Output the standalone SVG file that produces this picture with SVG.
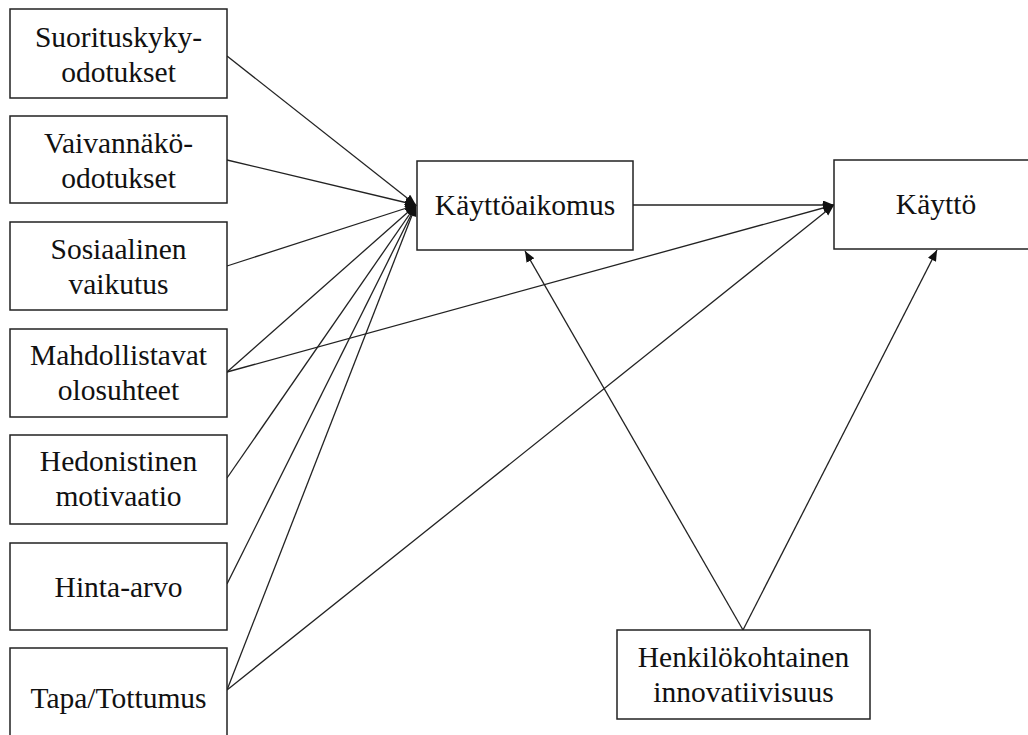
<svg xmlns="http://www.w3.org/2000/svg" width="1028" height="735" viewBox="0 0 1028 735">
<style>
.box{fill:#fff;stroke:#222;stroke-width:1.5}
.lbl{font-family:"Liberation Serif","Times New Roman",serif;font-size:29.5px;fill:#111;text-anchor:middle}
.con{stroke:#222;stroke-width:1.3;fill:none;marker-end:url(#ah)}
</style>
<defs>
<marker id="ah" markerUnits="userSpaceOnUse" markerWidth="12" markerHeight="10" refX="11" refY="4.5" orient="auto">
<path d="M0,0 L11,4.5 L0,9 z" fill="#111"/>
</marker>
</defs>
<rect width="1028" height="735" fill="#fff"/>
<g id="connectors">
<line class="con" x1="227" y1="56" x2="416" y2="205"/>
<line class="con" x1="227" y1="160" x2="416" y2="205"/>
<line class="con" x1="227" y1="266" x2="416" y2="205"/>
<line class="con" x1="227" y1="372" x2="416" y2="205"/>
<line class="con" x1="227" y1="372" x2="834" y2="205"/>
<line class="con" x1="227" y1="478" x2="416" y2="205"/>
<line class="con" x1="227" y1="584" x2="416" y2="205"/>
<line class="con" x1="227" y1="690" x2="416" y2="205"/>
<line class="con" x1="227" y1="690" x2="834" y2="205"/>
<line class="con" x1="633" y1="205" x2="834" y2="205"/>
<line class="con" x1="743" y1="630" x2="525" y2="251"/>
<line class="con" x1="743" y1="630" x2="937" y2="250"/>
</g>
<g id="n1"><rect class="box" x="10" y="9" width="217" height="89"/><text class="lbl" x="118.5" y="47">Suorituskyky-</text><text class="lbl" x="118.5" y="82">odotukset</text></g>
<g id="n2"><rect class="box" x="10" y="116" width="217" height="87"/><text class="lbl" x="118.5" y="153">Vaivannäkö-</text><text class="lbl" x="118.5" y="188">odotukset</text></g>
<g id="n3"><rect class="box" x="10" y="222" width="217" height="88"/><text class="lbl" x="118.5" y="259">Sosiaalinen</text><text class="lbl" x="118.5" y="294">vaikutus</text></g>
<g id="n4"><rect class="box" x="10" y="329" width="217" height="88"/><text class="lbl" x="118.5" y="365">Mahdollistavat</text><text class="lbl" x="118.5" y="400">olosuhteet</text></g>
<g id="n5"><rect class="box" x="10" y="435" width="217" height="89"/><text class="lbl" x="118.5" y="471">Hedonistinen</text><text class="lbl" x="118.5" y="506">motivaatio</text></g>
<g id="n6"><rect class="box" x="10" y="543" width="217" height="87"/><text class="lbl" x="118.5" y="597">Hinta-arvo</text></g>
<g id="n7"><rect class="box" x="10" y="648" width="217" height="100"/><text class="lbl" x="118.5" y="708">Tapa/Tottumus</text></g>
<g id="n8"><rect class="box" x="417" y="161" width="216" height="89"/><text class="lbl" x="525" y="215">Käyttöaikomus</text></g>
<g id="n9"><rect class="box" x="834" y="160" width="210" height="89"/><text class="lbl" x="936" y="214">Käyttö</text></g>
<g id="n10"><rect class="box" x="617" y="630" width="253" height="89"/><text class="lbl" x="743.5" y="667">Henkilökohtainen</text><text class="lbl" x="743.5" y="702">innovatiivisuus</text></g>
</svg>
